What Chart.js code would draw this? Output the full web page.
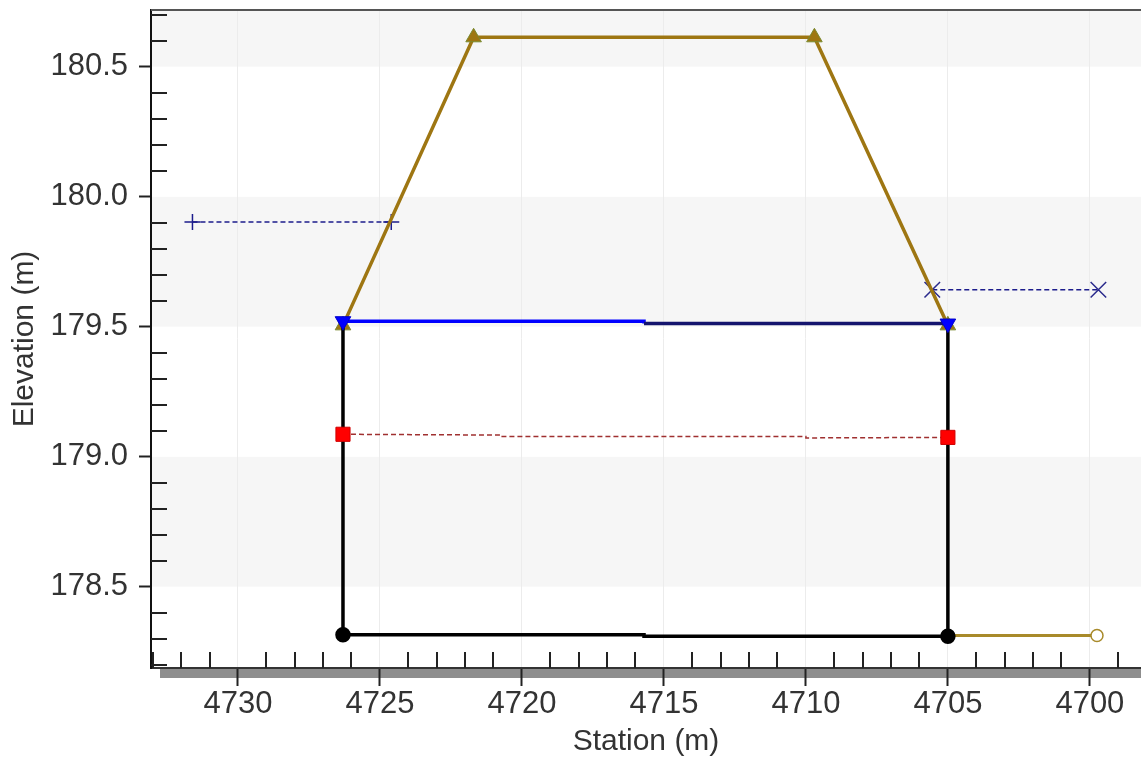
<!DOCTYPE html>
<html>
<head>
<meta charset="utf-8">
<script src="https://cdn.jsdelivr.net/npm/chart.js@4.4.1/dist/chart.umd.min.js"></script>
<style>
  html, body { margin: 0; padding: 0; background: #ffffff; }
  #wrap { width: 1141px; height: 762px; }
</style>
</head>
<body>
<div id="wrap"><canvas id="c" width="1141" height="762"></canvas></div>
<script>
// ---------- data ----------
const xTicks = [4730, 4725, 4720, 4715, 4710, 4705, 4700];
const yTicks = [178.5, 179.0, 179.5, 180.0, 180.5];

const groundSta  = [4726.3, 4726.3, 4715.7, 4715.7, 4705.0, 4705.0];
const groundElev = [179.52, 178.315, 178.315, 178.309, 178.309, 179.51];

const deckSta  = [4726.3, 4721.7, 4709.7, 4705.0];
const deckElev = [179.505, 180.613, 180.613, 179.505];

const wsSta  = [4726.3, 4715.7, 4715.7, 4705.0];
const wsElev = [179.521, 179.521, 179.512, 179.512];

const egSta  = [4726.3, 4720.8, 4720.8, 4710.0, 4710.0, 4705.0];
const egElev = [179.086, 179.083, 179.077, 179.077, 179.072, 179.074];

const leftLeveeSta  = [4731.6, 4724.6];
const leftLeveeElev = [179.903, 179.903];

const rightLeveeSta  = [4705.55, 4699.7];
const rightLeveeElev = [179.642, 179.642];

const outletSta  = [4705.0, 4699.75];
const outletElev = [178.312, 178.312];

const xRange = [4698.2, 4733.06];
const yRange = [178.187, 180.718];

// ---------- helpers ----------
const pts = (xs, ys) => xs.map((x, i) => ({ x: x, y: ys[i] }));
const FONT = "'Liberation Sans', Arial, sans-serif";

const decoPlugin = {
  id: 'deco',
  beforeDraw(chart) {
    const ctx = chart.ctx, a = chart.chartArea, ys = chart.scales.y;
    ctx.save();
    ctx.fillStyle = '#ffffff';
    ctx.fillRect(0, 0, chart.width, chart.height);
    const edges = [ys.min].concat(yTicks.filter(v => v > ys.min && v < ys.max)).concat([ys.max]);
    for (let i = 0; i < edges.length - 1; i++) {
      const y1 = ys.getPixelForValue(edges[i]);
      const y2 = ys.getPixelForValue(edges[i + 1]);
      const mid = (edges[i] + edges[i + 1]) / 2;
      const band = Math.floor(mid / 0.5) % 2;
      ctx.fillStyle = band === 1 ? '#f6f6f6' : '#ffffff';
      ctx.fillRect(a.left, y2, a.right - a.left, y1 - y2);
    }
    ctx.fillStyle = '#8e8e8e';
    ctx.fillRect(a.left + 9, a.bottom + 1, a.right - a.left, 9);
    ctx.restore();
  },
  afterDraw(chart) {
    const ctx = chart.ctx, a = chart.chartArea, ys = chart.scales.y, xs = chart.scales.x;
    ctx.save();
    ctx.strokeStyle = '#222';
    ctx.lineWidth = 2;
    for (let v = Math.ceil(xs.min); v <= Math.floor(xs.max); v++) {
      if (v % 5 === 0) continue;
      const px = Math.round(xs.getPixelForValue(v));
      ctx.beginPath(); ctx.moveTo(px, a.bottom); ctx.lineTo(px, a.bottom - 16); ctx.stroke();
    }
    for (let k = Math.ceil(ys.min * 10); k <= Math.floor(ys.max * 10); k++) {
      if (k % 5 === 0) continue;
      const py = Math.round(ys.getPixelForValue(k / 10));
      ctx.beginPath(); ctx.moveTo(a.left, py); ctx.lineTo(a.left + 16, py); ctx.stroke();
    }
    ctx.strokeStyle = '#555';
    ctx.lineWidth = 2;
    ctx.beginPath(); ctx.moveTo(a.left, a.top); ctx.lineTo(a.right, a.top); ctx.stroke();
    ctx.restore();
  }
};

const ds = [];
ds.push({
  label: 'WS', data: pts(wsSta, wsElev), showLine: true,
  borderColor: '#0000ff', backgroundColor: '#0000ff', borderWidth: 3.5,
  segment: { borderColor: c => c.p0DataIndex >= 2 ? '#14146e' : '#0000ff' },
  pointStyle: 'triangle', rotation: 180,
  pointRadius: c => (c.dataIndex === 0 || c.dataIndex === wsSta.length - 1) ? 9 : 0,
  pointBorderWidth: 1, pointBorderColor: '#0000cc', pointBackgroundColor: '#0000ff'
});
ds.push({
  label: 'EG', data: pts(egSta, egElev), showLine: true,
  borderColor: '#a03030', borderWidth: 1.5, borderDash: [5, 3],
  pointStyle: 'rect',
  pointRadius: c => (c.dataIndex === 0 || c.dataIndex === egSta.length - 1) ? 10 : 0,
  pointBackgroundColor: '#ff0000', pointBorderColor: '#d00000', pointBorderWidth: 1
});
ds.push({
  label: 'Ground', data: pts(groundSta, groundElev), showLine: true,
  borderColor: '#000000', borderWidth: 3.5,
  pointStyle: 'circle',
  pointRadius: c => (c.dataIndex === 1 || c.dataIndex === 4) ? 6 : 0,
  pointBackgroundColor: '#000', pointBorderColor: '#000'
});
ds.push({
  label: 'Deck', data: pts(deckSta, deckElev), showLine: true,
  borderColor: '#9e7612', borderWidth: 3.5,
  pointStyle: 'triangle', pointRadius: 9,
  pointBackgroundColor: '#9e7612', pointBorderColor: '#7a8a30', pointBorderWidth: 1
});
ds.push({
  label: 'Outlet', data: pts(outletSta, outletElev), showLine: true,
  borderColor: '#a88a2a', borderWidth: 3,
  pointStyle: 'circle',
  pointRadius: c => c.dataIndex === 1 ? 6 : 0,
  pointBackgroundColor: '#ffffff', pointBorderColor: '#a88a2a', pointBorderWidth: 1.5
});
ds.push({
  label: 'Left Levee', data: pts(leftLeveeSta, leftLeveeElev), showLine: true,
  borderColor: '#1c1c8c', borderWidth: 1.5, borderDash: [5, 3],
  pointStyle: 'cross', pointRadius: 8, pointBorderWidth: 1.5, pointBorderColor: '#1c1c8c'
});
ds.push({
  label: 'Right Levee', data: pts(rightLeveeSta, rightLeveeElev), showLine: true,
  borderColor: '#1c1c8c', borderWidth: 1.5, borderDash: [5, 3],
  pointStyle: 'crossRot', pointRadius: 11, pointBorderWidth: 1.5, pointBorderColor: '#2a2a8c'
});

const zeroPad = s => { s.paddingTop = 0; s.paddingBottom = 0; s.paddingLeft = 0; s.paddingRight = 0; };

new Chart(document.getElementById('c'), {
  type: 'scatter',
  data: { datasets: ds },
  plugins: [decoPlugin],
  options: {
    responsive: false,
    animation: false,
    events: [],
    layout: { autoPadding: false, padding: { top: 10, left: 0, right: 0, bottom: 0 } },
    plugins: { legend: { display: false }, tooltip: { enabled: false } },
    elements: { line: { tension: 0 } },
    scales: {
      x: {
        type: 'linear', reverse: true, min: xRange[0], max: xRange[1],
        afterBuildTicks: s => { s.ticks = xTicks.map(v => ({ value: v })); },
        afterFit: s => { s.height = 94; zeroPad(s); },
        ticks: { font: { family: FONT, size: 31 }, color: '#333', padding: 0, maxRotation: 0,
                 callback: v => String(v) },
        grid: { color: '#ececec', lineWidth: 1, tickColor: '#222', tickWidth: 2, tickLength: 18 },
        border: { display: true, color: '#333', width: 2 },
        title: { display: true, text: 'Station (m)', font: { family: FONT, size: 30 }, color: '#333',
                 padding: { top: 2, bottom: 2 } }
      },
      y: {
        type: 'linear', min: yRange[0], max: yRange[1],
        afterBuildTicks: s => { s.ticks = yTicks.map(v => ({ value: v })); },
        afterFit: s => { s.width = 151; zeroPad(s); },
        ticks: { font: { family: FONT, size: 31 }, color: '#333', padding: 11,
                 callback: v => Number(v).toFixed(1) },
        grid: { color: 'rgba(0,0,0,0)', tickColor: '#222', tickWidth: 2, tickLength: 12 },
        border: { display: true, color: '#111', width: 2 },
        title: { display: true, text: 'Elevation (m)', font: { family: FONT, size: 30 }, color: '#333',
                 padding: { top: 7, bottom: 7 } }
      }
    }
  }
});
</script>
</body>
</html>
